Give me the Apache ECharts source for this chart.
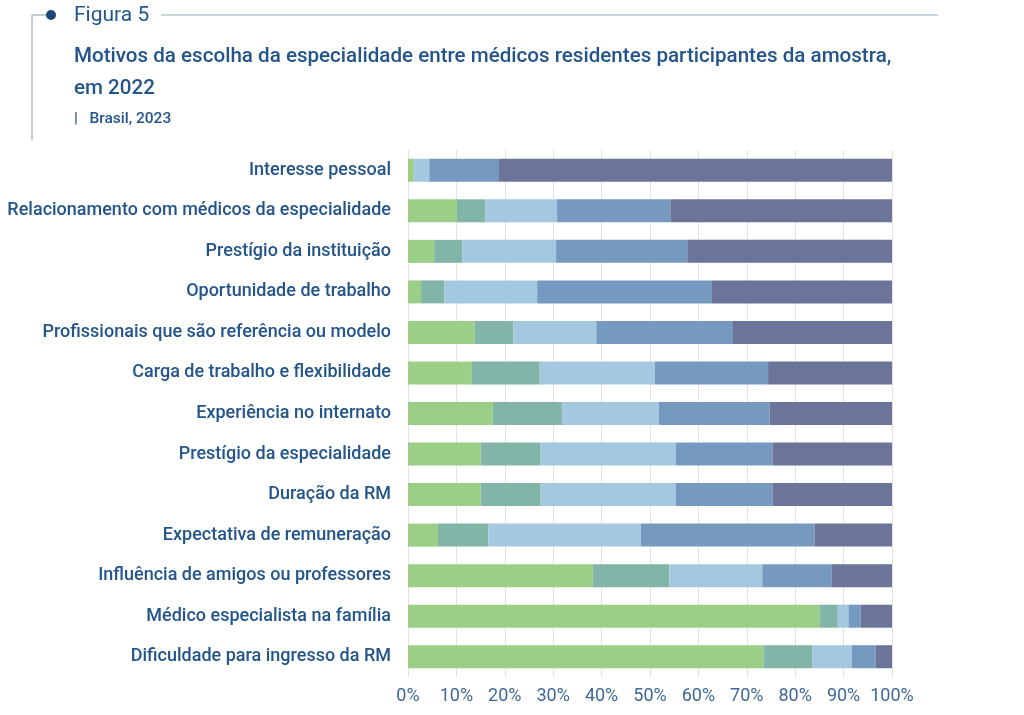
<!DOCTYPE html>
<html>
<head>
<meta charset="utf-8">
<script src="https://cdn.jsdelivr.net/npm/echarts@6/dist/echarts.min.js"></script>
<style>
html,body{margin:0;padding:0;background:#ffffff;}
#c{width:1024px;height:715px;}
</style>
</head>
<body>
<div id="c"></div>
<script>
var categories = [
  "Interesse pessoal",
  "Relacionamento com médicos da especialidade",
  "Prestígio da instituição",
  "Oportunidade de trabalho",
  "Profissionais que são referência ou modelo",
  "Carga de trabalho e flexibilidade",
  "Experiência no internato",
  "Prestígio da especialidade",
  "Duração da RM",
  "Expectativa de remuneração",
  "Influência de amigos ou professores",
  "Médico especialista na família",
  "Dificuldade para ingresso da RM"
];
var seriesNames = ["Nível 1", "Nível 2", "Nível 3", "Nível 4", "Nível 5"];
var s1 = [1.2, 10.1, 5.4, 2.7, 13.8, 13.2, 17.5, 15.0, 15.0, 6.2, 38.2, 85.0, 73.5];
var s2 = [0.0, 5.9, 5.8, 4.8, 8.0, 14.0, 14.3, 12.4, 12.4, 10.4, 15.8, 3.8, 10.0];
var s3 = [3.2, 14.8, 19.4, 19.2, 17.1, 23.8, 20.0, 27.9, 27.9, 31.5, 19.2, 2.2, 8.2];
var s4 = [14.4, 23.4, 27.1, 36.1, 28.1, 23.4, 22.9, 20.0, 20.0, 35.9, 14.3, 2.5, 4.9];
var s5 = [81.2, 45.8, 42.3, 37.2, 33.0, 25.6, 25.3, 24.7, 24.7, 16.0, 12.5, 6.5, 3.4];
var tickLabels = ["0%","10%","20%","30%","40%","50%","60%","70%","80%","90%","100%"];
var colors = ["#9bcf87", "#82b5a8", "#a3c8e0", "#7699c0", "#6b7499"];

var allSeries = [s1, s2, s3, s4, s5];
var chart = echarts.init(document.getElementById('c'));
var textColor = "#23558a";
var fontFam = "Roboto, 'Noto Sans', sans-serif";

var option = {
  backgroundColor: "#ffffff",
  animation: false,
  grid: { left: 408, right: 132, top: 150, bottom: 38, containLabel: false },
  xAxis: {
    type: 'value', min: 0, max: 100, interval: 10,
    axisLine: { show: false }, axisTick: { show: false },
    splitLine: { show: true, lineStyle: { color: "#e2e2e2", width: 1 } },
    axisLabel: {
      color: "#3f6897", fontSize: 18, fontFamily: fontFam, margin: 10,
      formatter: function (v) { return tickLabels[Math.round(v / 10)]; }
    }
  },
  yAxis: {
    type: 'category', data: categories, inverse: true,
    axisLine: { show: false }, axisTick: { show: false },
    axisLabel: { color: textColor, fontSize: 18, fontFamily: fontFam, fontWeight: 500, margin: 17 }
  },
  series: allSeries.map(function (d, i) {
    return {
      name: seriesNames[i], type: 'bar', stack: 'total', data: d,
      barWidth: 23, itemStyle: { color: colors[i] },
      emphasis: { disabled: true }
    };
  }),
  graphic: [
    { type: 'line', shape: { x1: 32, y1: 15, x2: 32, y2: 140 }, style: { stroke: "#9aaab8", lineWidth: 1.2 } },
    { type: 'line', shape: { x1: 32, y1: 15, x2: 48, y2: 15 }, style: { stroke: "#9aaab8", lineWidth: 1.2 } },
    { type: 'circle', shape: { cx: 51, cy: 15, r: 5 }, style: { fill: "#1c4677" } },
    { type: 'line', shape: { x1: 161, y1: 15, x2: 938, y2: 15 }, style: { stroke: "#9aaab8", lineWidth: 1.2 } },
    { type: 'text', left: 74, top: 5, style: { text: "Figura 5", fill: textColor, fontSize: 21, fontFamily: fontFam } },
    { type: 'text', left: 74, top: 41, style: { text: "Motivos da escolha da especialidade entre médicos residentes participantes da amostra,\nem 2022", fill: textColor, fontSize: 20.6, lineHeight: 32, fontFamily: fontFam, fontWeight: 500 } },
    { type: 'text', left: 74, top: 111, style: { text: "|   Brasil, 2023", fill: textColor, fontSize: 15.5, fontFamily: fontFam, fontWeight: 500 } }
  ]
};
chart.setOption(option);
</script>
</body>
</html>
